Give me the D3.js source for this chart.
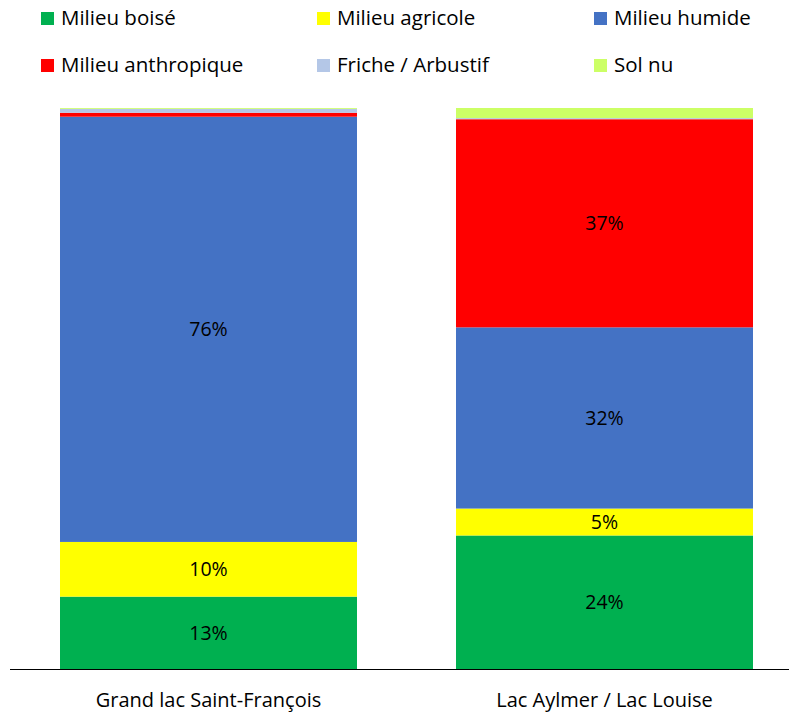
<!DOCTYPE html>
<html lang="fr">
<head>
<meta charset="UTF-8">
<title>Occupation du sol</title>
<script src="https://d3js.org/d3.v7.min.js"></script>
<style>
  html, body { margin: 0; padding: 0; background: #fff; }
  svg { display: block; font-family: "Open Sans", sans-serif; }
</style>
</head>
<body>
<svg width="789" height="714"></svg>
<script>
// categories (x) and land-cover classes (stack order, bottom to top)
const sites = ["Grand lac Saint-François", "Lac Aylmer / Lac Louise"];
const classes = ["Milieu boisé", "Milieu agricole", "Milieu humide", "Milieu anthropique", "Friche / Arbustif", "Sol nu"];
const colors = ["#00b050", "#ffff00", "#4472c4", "#ff0000", "#b4c7e7", "#ccff66"];

// percentage per class, one value per site
const boise = [12.9, 23.8];
const agricole = [9.75, 4.8];
const humide = [75.8, 32.3];
const anthropique = [0.7, 37.1];
const friche = [0.7, 0.2];
const solNu = [0.15, 1.8];

const series = [boise, agricole, humide, anthropique, friche, solNu];
const rows = sites.map((s, i) => {
  const r = { site: s };
  classes.forEach((c, k) => r[c] = series[k][i]);
  return r;
});

const width = 789, height = 714;
const margin = { top: 108, bottom: 45, left: 10 };

const svg = d3.select("svg");

const x = d3.scaleBand()
  .domain(sites)
  .range([10.5, 802.5])
  .paddingInner(0.25)
  .paddingOuter(0.125);

const y = d3.scaleLinear()
  .domain([0, 100])
  .range([height - margin.bottom, margin.top]);

const layers = d3.stack().keys(classes)(rows);

const g = svg.append("g");
layers.forEach((layer, k) => {
  g.selectAll(null)
    .data(layer)
    .enter().append("rect")
    .attr("x", d => x(d.data.site))
    .attr("width", x.bandwidth())
    .attr("y", d => y(d[1]))
    .attr("height", d => y(d[0]) - y(d[1]))
    .attr("fill", colors[k]);

  // value labels for the larger segments
  g.selectAll(null)
    .data(layer.filter(d => d[1] - d[0] >= 4))
    .enter().append("text")
    .attr("x", d => x(d.data.site) + x.bandwidth() / 2)
    .attr("y", d => y((d[0] + d[1]) / 2))
    .attr("dy", "0.35em")
    .attr("text-anchor", "middle")
    .attr("font-size", 19.5)
    .attr("fill", "#000")
    .text(d => Math.round(d[1] - d[0]) + "%");
});

// x axis
const xAxis = svg.append("g")
  .attr("transform", `translate(0,${y(0)})`)
  .call(d3.axisBottom(x).tickSize(0).tickPadding(24));
xAxis.select(".domain").attr("stroke", "#000").attr("d", `M${margin.left},0.5H${width}`);
xAxis.selectAll("text").attr("font-size", 20).attr("fill", "#000")
  .style("font-family", "'Open Sans', sans-serif");

// legend, 3 columns x 2 rows
const legCols = [41, 317, 594];
const legRows = [18, 65];
const legend = svg.append("g");
classes.forEach((c, k) => {
  const lx = legCols[k % 3], ly = legRows[Math.floor(k / 3)];
  legend.append("rect")
    .attr("x", lx).attr("y", ly - 6)
    .attr("width", 13).attr("height", 13)
    .attr("fill", colors[k]);
  legend.append("text")
    .attr("x", lx + 20).attr("y", ly)
    .attr("dy", "0.35em")
    .attr("font-size", 20.5)
    .attr("fill", "#000")
    .text(c);
});
</script>
</body>
</html>
